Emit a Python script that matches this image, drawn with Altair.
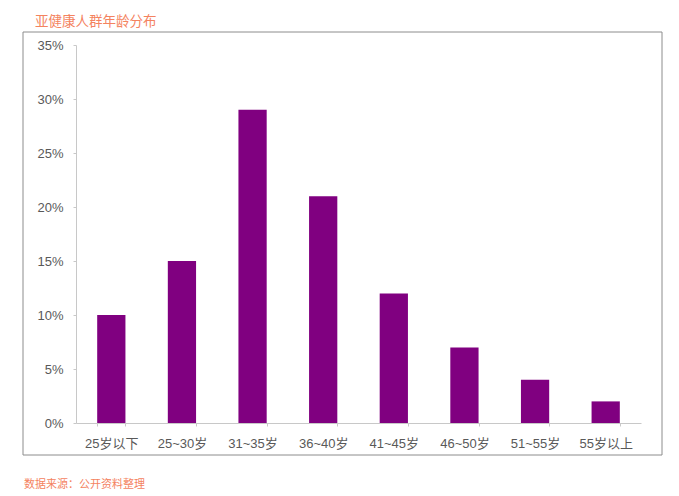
import altair as alt
import pandas as pd

categories = ["25岁以下", "25~30岁", "31~35岁", "36~40岁", "41~45岁", "46~50岁", "51~55岁", "55岁以上"]
shares = [0.10, 0.15, 0.29, 0.21, 0.12, 0.07, 0.04, 0.02]
y_ticks = [0, 0.05, 0.10, 0.15, 0.20, 0.25, 0.30, 0.35]
title_text = "亚健康人群年龄分布"
source_text = "数据来源：公开资料整理"

df = pd.DataFrame({"cat": categories, "val": shares})

FONT = "Liberation Sans, Arial, Noto Sans CJK SC"
W, H = 565, 378

frame = alt.Chart(pd.DataFrame({"a": [0]})).mark_rect(
    fill=None, stroke="#8c8c8c", strokeWidth=1
).encode(
    x=alt.value(-53), x2=alt.value(586), y=alt.value(-13), y2=alt.value(410)
)

bars = alt.Chart(df).mark_bar(color="#800080").encode(
    x=alt.X("cat:N", sort=categories, title=None,
            scale=alt.Scale(paddingInner=0.6, paddingOuter=0.3),
            axis=alt.Axis(labelAngle=0, labelFontSize=13, labelColor="#595959",
                          labelFont=FONT, labelPadding=11, domainColor="#c8c8c8",
                          tickColor="#c8c8c8", tickSize=3, tickBand="extent")),
    y=alt.Y("val:Q", title=None,
            scale=alt.Scale(domain=[0, 0.35], nice=False),
            axis=alt.Axis(values=y_ticks, format=".0%", labelFontSize=13,
                          labelColor="#595959", labelFont=FONT, labelPadding=10,
                          domainColor="#c8c8c8", tickColor="#c8c8c8", tickSize=3,
                          grid=False)),
)

title = alt.Chart(pd.DataFrame({"t": [title_text]})).mark_text(
    align="left", baseline="top", fontSize=13.5, color="#F4835F", font="Noto Sans CJK SC"
).encode(text="t:N", x=alt.value(-41), y=alt.value(-30))

source = alt.Chart(pd.DataFrame({"t": [source_text]})).mark_text(
    align="left", baseline="middle", fontSize=11, color="#F4835F", font="Noto Sans CJK SC"
).encode(text="t:N", x=alt.value(-52), y=alt.value(440))

chart = alt.layer(frame, bars, title, source).properties(
    width=W, height=H,
    autosize=alt.AutoSizeParams(type="none"),
    padding={"left": 68, "top": 37, "right": 30, "bottom": 70},
).configure_view(stroke=None)

chart.save("out.html", embed_options={"renderer": "svg", "actions": False})
